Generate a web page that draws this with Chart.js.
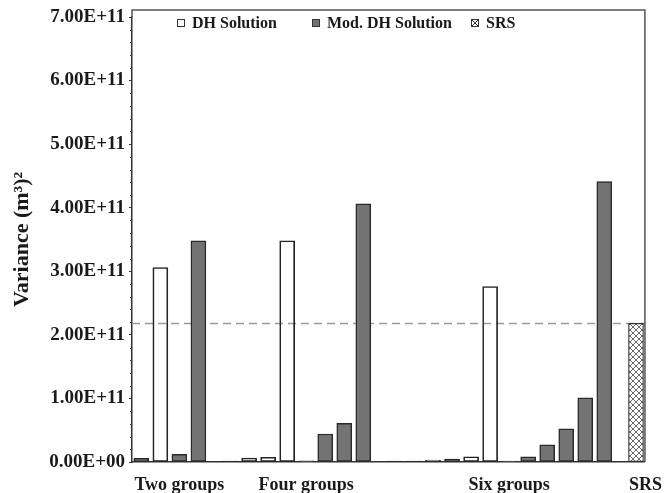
<!DOCTYPE html>
<html>
<head>
<meta charset="utf-8">
<script src="https://cdn.jsdelivr.net/npm/chart.js@4.4.0/dist/chart.umd.min.js"></script>
<style>
  html, body { margin: 0; padding: 0; background: #fff; }
  #wrap { width: 667px; height: 493px; }
</style>
</head>
<body>
<div id="wrap"><canvas id="varianceChart" width="667" height="493"></canvas></div>
<script>
// ==========================
// DATOS
// ==========================

const groupLabels = ["Two groups", "Four groups", "Six groups", "SRS"];
const seriesLabels = ["DH Solution", "Mod. DH Solution", "SRS"];

const dhTwo = [0.058e11, 3.06e11];
const modTwo = [0.12e11, 3.48e11];

const dhFour = [0.002e11, 0.063e11, 0.075e11, 3.48e11];
const modFour = [0.02e11, 0.44e11, 0.61e11, 4.06e11];

const dhSix = [0.002e11, 0.002e11, 0.03e11, 0.045e11, 0.083e11, 2.76e11];
const modSix = [0.004e11, 0.083e11, 0.27e11, 0.52e11, 1.01e11, 4.41e11];

const srsValues = [2.18e11];
const srsLevel = 2.18e11;

const yTicks = [0, 1e11, 2e11, 3e11, 4e11, 5e11, 6e11, 7e11];

// ==========================
// POSICIONES EN EL EJE X
// ==========================

const dhGroups = [dhTwo, dhFour, dhSix];
const modGroups = [modTwo, modFour, modSix];

const groupGap = 2 / 3;
const labelShift = 0.5;

const dhPoints = [];
const modPoints = [];
const srsPoints = [];
const labelTicks = [];

let pos = 0;

dhGroups.forEach((dh, g) => {
    const start = pos;
    dh.forEach(v => dhPoints.push({ x: pos++, y: v }));
    modGroups[g].forEach(v => modPoints.push({ x: pos++, y: v }));
    labelTicks.push((start + pos - 1) / 2 + labelShift);
    pos += groupGap;
});

srsValues.forEach(v => srsPoints.push({ x: pos++, y: v }));
labelTicks.push(pos - 1 + labelShift);

// ==========================
// TRAMA SRS
// ==========================

function crossHatch() {
    const c = document.createElement("canvas");
    c.width = 6;
    c.height = 6;
    const g = c.getContext("2d");
    g.fillStyle = "#ffffff";
    g.fillRect(0, 0, 6, 6);
    g.strokeStyle = "#6a6a6a";
    g.lineWidth = 1;
    g.beginPath();
    g.moveTo(0, 0); g.lineTo(6, 6);
    g.moveTo(6, 0); g.lineTo(0, 6);
    g.stroke();
    return g.createPattern(c, "repeat");
}

const hatch = crossHatch();

function sci(v) {
    const parts = Number(v).toExponential(2).toUpperCase().split("E");
    const sign = parts[1][0] === "-" ? "-" : "+";
    const exp = parts[1].replace(/[+-]/, "").padStart(2, "0");
    return parts[0] + "E" + sign + exp;
}

const serif = "'Liberation Serif', 'Times New Roman', serif";

// ==========================
// MARCO, LINEA SRS, LEYENDA
// ==========================

const extras = {
    id: "extras",
    beforeDatasetsDraw(chart) {
        const { ctx, chartArea } = chart;
        const y = chart.scales.y.getPixelForValue(srsLevel);
        ctx.save();
        ctx.strokeStyle = "#9a9a9a";
        ctx.lineWidth = 1.5;
        ctx.setLineDash([8, 5]);
        ctx.beginPath();
        ctx.moveTo(chartArea.left, y);
        ctx.lineTo(chartArea.right, y);
        ctx.stroke();
        ctx.restore();
    },
    afterDraw(chart) {
        const { ctx, chartArea } = chart;
        const ys = chart.scales.y;
        const top = chartArea.top - 7;

        ctx.save();

        // marco
        ctx.strokeStyle = "#555";
        ctx.lineWidth = 1.5;
        ctx.beginPath();
        ctx.moveTo(chartArea.left, chartArea.top);
        ctx.lineTo(chartArea.left, top);
        ctx.lineTo(chartArea.right, top);
        ctx.lineTo(chartArea.right, chartArea.bottom);
        ctx.stroke();

        // ticks menores
        ctx.strokeStyle = "#333";
        ctx.lineWidth = 1;
        for (let i = 0; i < yTicks.length - 1; i++) {
            for (let k = 1; k < 5; k++) {
                const v = yTicks[i] + (yTicks[i + 1] - yTicks[i]) * k / 5;
                const py = Math.round(ys.getPixelForValue(v)) + 0.5;
                ctx.beginPath();
                ctx.moveTo(chartArea.left - 2, py);
                ctx.lineTo(chartArea.left, py);
                ctx.stroke();
            }
        }

        // leyenda
        const boxX = [177, 312, 471];
        const ly = 23;
        ctx.font = "bold 16px " + serif;
        ctx.textBaseline = "middle";
        ctx.fillStyle = "#1a1a1a";
        seriesLabels.forEach((label, i) => {
            const x = boxX[i];
            ctx.lineWidth = 1;
            ctx.strokeStyle = "#333";
            if (i === 1) {
                ctx.fillStyle = "#737373";
                ctx.fillRect(x, ly - 4, 8, 8);
            }
            ctx.strokeRect(x + 0.5, ly - 3.5, 7, 7);
            if (i === 2) {
                ctx.beginPath();
                ctx.moveTo(x + 0.5, ly - 3.5); ctx.lineTo(x + 7.5, ly + 3.5);
                ctx.moveTo(x + 7.5, ly - 3.5); ctx.lineTo(x + 0.5, ly + 3.5);
                ctx.stroke();
            }
            ctx.fillStyle = "#1a1a1a";
            ctx.fillText(label, x + 15, ly + 1);
        });

        ctx.restore();
    }
};

// ==========================
// GRAFICO
// ==========================

const canvas = document.getElementById("varianceChart");

new Chart(canvas, {

    type: "bar",

    data: {
        datasets: [
            {
                label: seriesLabels[0],
                data: dhPoints,
                backgroundColor: "rgba(255,255,255,0)",
                borderColor: "#222",
                borderWidth: 1
            },
            {
                label: seriesLabels[1],
                data: modPoints,
                backgroundColor: "#737373",
                borderColor: "#2a2a2a",
                borderWidth: 1.5
            },
            {
                label: seriesLabels[2],
                data: srsPoints,
                backgroundColor: hatch,
                borderColor: "#333",
                borderWidth: 1.2
            }
        ]
    },

    options: {

        responsive: false,
        animation: false,

        layout: {
            padding: { top: 17, right: 11, left: 0, bottom: 0 }
        },

        datasets: {
            bar: {
                grouped: false,
                barThickness: 15,
                minBarLength: 1,
                borderSkipped: false
            }
        },

        plugins: {
            legend: { display: false },
            tooltip: { enabled: false }
        },

        scales: {

            x: {
                type: "linear",
                offset: false,
                min: -0.49,
                max: 26.47,
                afterDataLimits: s => {
                    s.min = -0.49;
                    s.max = 26.47;
                },
                afterBuildTicks: s => {
                    s.ticks = labelTicks.map(v => ({ value: v }));
                },
                afterFit: s => { s.height = 31; },
                ticks: {
                    autoSkip: false,
                    maxRotation: 0,
                    padding: 5,
                    color: "#1a1a1a",
                    font: { family: serif, size: 18, weight: "bold" },
                    callback: (v, i) => groupLabels[i]
                },
                grid: { display: false },
                border: { color: "#333", width: 1.5 }
            },

            y: {
                min: 0,
                max: 7e11,
                afterBuildTicks: s => {
                    s.ticks = yTicks.map(v => ({ value: v }));
                },
                afterFit: s => { s.width = 132; },
                ticks: {
                    padding: 4,
                    color: "#1a1a1a",
                    font: { family: serif, size: 19, weight: "bold" },
                    callback: v => sci(v)
                },
                grid: {
                    drawOnChartArea: false,
                    tickLength: 3,
                    tickColor: "#333"
                },
                border: { color: "#333", width: 1.5 },
                title: {
                    display: true,
                    text: "Variance (m³)²",
                    color: "#1a1a1a",
                    padding: { top: 9, bottom: 0 },
                    font: { family: serif, size: 22, weight: "bold" }
                }
            }

        }

    },

    plugins: [extras]

});
</script>
</body>
</html>
